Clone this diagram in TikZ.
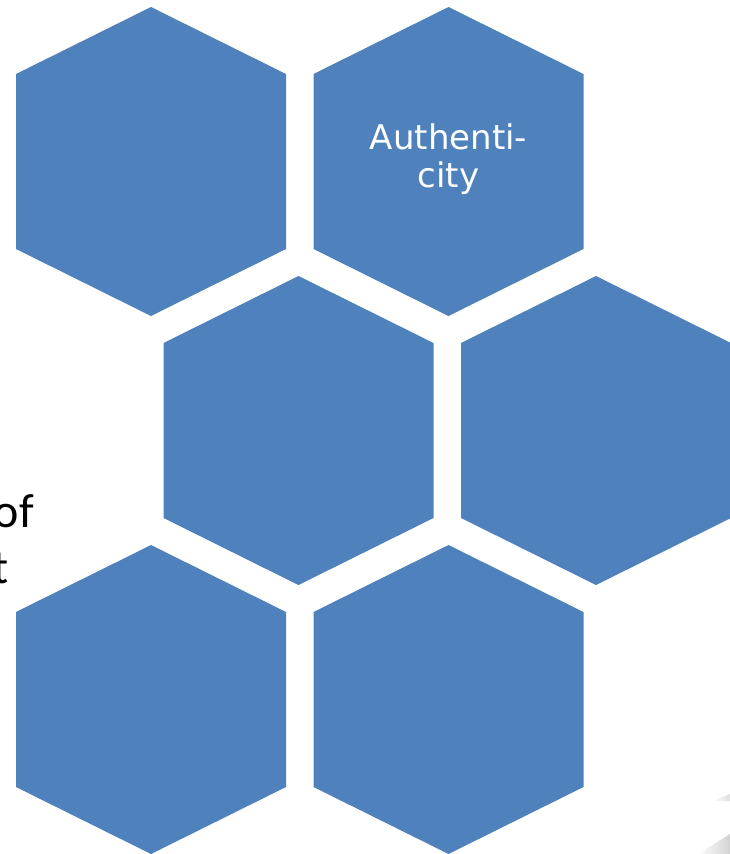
\documentclass[tikz,border=0pt]{standalone}
\usepackage{fontspec}
\usepackage{xcolor}
\usetikzlibrary{positioning}
\newfontfamily\hexfont{DejaVu Sans}
\newfontfamily\sidefont{Carlito}
\definecolor{hexblue}{HTML}{4F81BD}

\tikzset{
  hexcell/.style={fill=hexblue, draw=none},
  hexlabel/.style={text=white, align=center, inner sep=0pt,
    font=\hexfont\fontsize{34}{38}\selectfont},
  sidetext/.style={text=black, inner sep=0pt, anchor=base east,
    font=\sidefont\fontsize{48}{57}\selectfont},
}

% one cell: 270 wide, 309 high, centre given
\newcommand{\hexcellat}[1]{%
  \path[hexcell] (#1) ++(0,-154.5) -- ++(135,67) -- ++(0,175)
    -- ++(-135,67) -- ++(-135,-67) -- ++(0,-175) -- cycle;}

\begin{document}
\begin{tikzpicture}[x=1pt, y=-1pt]
  \useasboundingbox (0,0) rectangle (730,854);
  \clip (0,0) rectangle (730,854);

  \coordinate (H-1-1) at (151,161.5);
  \coordinate (H-1-2) at (448.5,161.5);
  \coordinate (H-2-1) at (298.5,430.5);
  \coordinate (H-2-2) at (596,430.5);
  \coordinate (H-3-1) at (151,699.5);
  \coordinate (H-3-2) at (448.5,699.5);

  \foreach \c in {H-1-1,H-1-2,H-2-1,H-2-2,H-3-1,H-3-2}
    \hexcellat{\c};

  \node[hexlabel] (auth) at ([yshift=2]H-1-2) {Authenti-\\city};

  \node[sidetext] (side-1) at (34,527) {of};
  \node[sidetext] (side-2) at (9,583) {t};

  % faint page shadow
  \shade[left color=white, right color=gray!35] (698,854) -- (730,834) -- (730,854) -- cycle;
  \shade[left color=white, right color=gray!25] (712,801) -- (730,794) -- (730,801) -- cycle;
\end{tikzpicture}
\end{document}
